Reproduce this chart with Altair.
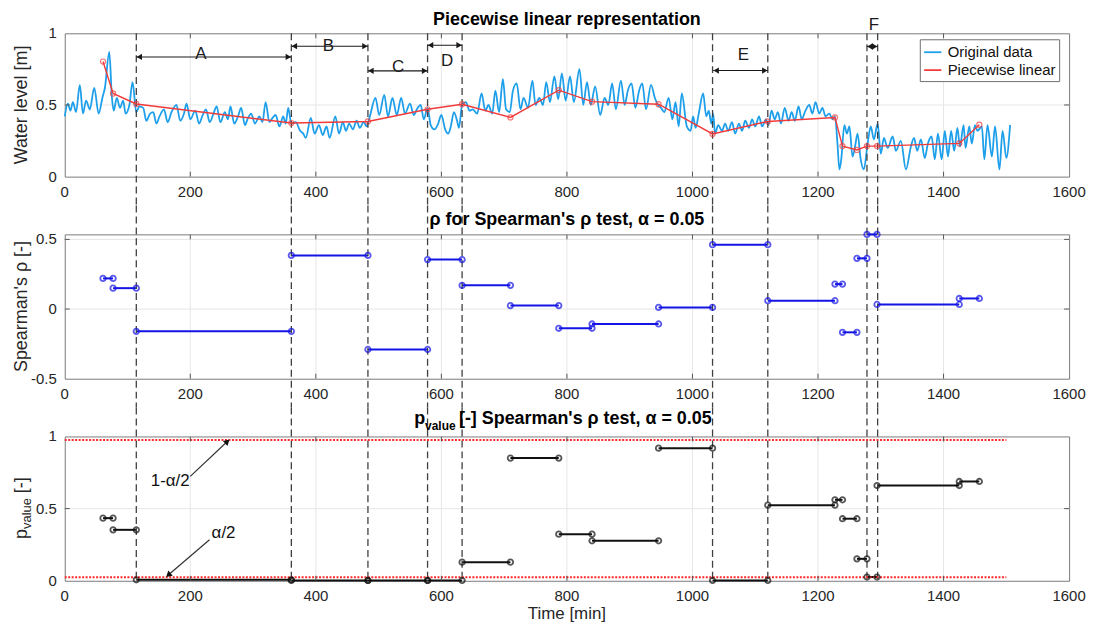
import altair as alt
import pandas as pd

FONT = "Liberation Sans"
TXT = "#262626"
GRID = "#e6e6e6"
FRAME = "#7a7a7a"
BLUE_LINE = "#1E9FEA"
RED = "#F23A3A"
SEG_BLUE = "#1414E6"
BLACK = "#111111"
DASH = "#404040"

W = 1009
H1, H2, H3 = 144, 145, 145
GAP = 58
HALF = GAP / 2

# ---------------- data: original water level (time [min], level [m]) ----------------
orig_1 = [(0, .42), (5, .51), (9, .46), (13, .52), (18, .45), (24, .64), (29, .44), (34, .53),
          (40, .47), (47, .62), (54, .44), (60, .55), (64, .62), (71, .87), (75, .56),
          (78, .46), (83, .55), (88, .48), (93, .53), (97, .44), (103, .50), (108, .66),
          (114, .45), (119, .49), (125, .48), (130, .39), (136, .44), (141, .45), (146, .37),
          (151, .42), (158, .47), (164, .38), (170, .45), (178, .50), (184, .39), (190, .44),
          (194, .51), (200, .40), (208, .46), (214, .37), (219, .42), (225, .47), (231, .38),
          (237, .44), (242, .49), (248, .38), (255, .45), (260, .40), (264, .49), (270, .37),
          (276, .42), (281, .48), (287, .36), (292, .41), (297, .44), (303, .37), (310, .42),
          (315, .38), (320, .52), (326, .38), (331, .41), (336, .43), (342, .35), (348, .42),
          (352, .37), (356, .48)]
orig_2 = [(361, .37), (368, .38), (375, .32), (380, .30), (384, .27), (392, .41), (398, .30),
          (405, .36), (411, .29), (417, .35), (422, .27), (431, .42), (437, .30), (443, .38),
          (448, .32), (453, .37), (459, .33), (465, .39), (470, .34), (476, .38), (481, .35),
          (486, .42), (495, .55), (501, .43), (509, .57), (515, .42), (522, .55), (529, .43),
          (536, .55), (542, .44), (550, .51), (556, .43), (561, .47), (567, .50), (572, .40),
          (578, .48), (583, .36), (589, .33), (594, .36), (600, .43), (606, .33), (611, .30),
          (615, .35), (620, .45), (625, .39), (628, .34), (633, .50), (639, .52), (645, .46),
          (650, .47), (657, .44), (664, .58), (670, .46), (675, .50), (681, .44), (686, .60),
          (692, .45), (698, .68), (703, .47), (709, .45), (714, .60), (720, .65), (726, .47),
          (731, .55), (738, .48), (745, .67), (750, .50), (756, .55), (762, .50), (767, .66),
          (773, .52), (780, .70)]
orig_3 = [(786, .54), (792, .72), (798, .53), (805, .70), (811, .52), (820, .75), (826, .50),
          (832, .66), (838, .50), (845, .63), (853, .43), (860, .55), (866, .50), (872, .65),
          (878, .47), (886, .67), (892, .50), (897, .60), (903, .65), (909, .48), (915, .60),
          (920, .65), (926, .47), (934, .64), (940, .55), (945, .50), (950, .48), (955, .45),
          (962, .55), (968, .40), (973, .52), (978, .35), (983, .58), (991, .35), (997, .32),
          (1001, .42), (1005, .34), (1010, .44), (1017, .58), (1022, .42), (1026, .46),
          (1030, .37), (1033, .44), (1036, .30), (1041, .36), (1047, .32), (1052, .37),
          (1057, .32), (1063, .38), (1068, .30), (1074, .37), (1079, .32), (1084, .39),
          (1090, .34), (1095, .40), (1100, .35), (1106, .42), (1111, .35), (1117, .40),
          (1121, .36), (1126, .46), (1131, .40), (1136, .45), (1141, .37), (1147, .48),
          (1153, .39), (1158, .45), (1163, .39), (1169, .49), (1174, .40), (1180, .46),
          (1186, .50), (1191, .44), (1196, .52), (1202, .44), (1207, .48), (1212, .42),
          (1218, .44), (1223, .40), (1227, .42)]
orig_4 = [(1231, .23), (1234, .05), (1237, .12), (1242, .36), (1246, .30), (1250, .35),
          (1255, .14), (1259, .21), (1263, .30), (1268, .12), (1273, .05), (1279, .23),
          (1284, .35), (1289, .26), (1295, .37), (1300, .16), (1305, .27), (1311, .20),
          (1319, .28), (1324, .18), (1332, .25), (1340, .05), (1348, .21), (1353, .27),
          (1358, .18), (1364, .26), (1370, .13), (1375, .23), (1381, .28), (1386, .12),
          (1391, .30), (1397, .12), (1402, .32), (1407, .14), (1412, .32), (1417, .18),
          (1422, .34), (1426, .21), (1432, .36), (1435, .20), (1441, .35), (1445, .23),
          (1450, .36), (1454, .32), (1461, .35), (1465, .12), (1470, .36), (1477, .14),
          (1482, .35), (1489, .05), (1494, .32), (1500, .13), (1506, .36)]

# piecewise linear knots (time, level)
pw_t = [61, 77, 114, 361, 483, 578, 633, 710, 787, 840, 946, 1032, 1120, 1227, 1239,
        1262, 1278, 1294, 1425, 1457]
pw_v = [0.803, 0.58, 0.507, 0.374, 0.385, 0.47, 0.505, 0.413, 0.603, 0.523, 0.505,
        0.298, 0.385, 0.413, 0.213, 0.186, 0.213, 0.213, 0.232, 0.362]

# Spearman's rho and p-value per segment
rho = [0.22, 0.15, -0.16, 0.385, -0.29, 0.355, 0.17, 0.025, -0.138, -0.107, 0.012,
       0.462, 0.06, 0.179, -0.167, 0.364, 0.536, 0.033, 0.076]
pval = [0.434, 0.353, 0.007, 0.002, 0.002, 0.002, 0.129, 0.85, 0.323, 0.277, 0.919,
        0.002, 0.524, 0.561, 0.43, 0.152, 0.026, 0.66, 0.688]

breaks = [114, 361, 483, 578, 633, 1032, 1120, 1278, 1295]

# axis ticks and their labels
xticks = [0, 200, 400, 600, 800, 1000, 1200, 1400, 1600]
xtick_labels = ["0", "200", "400", "600", "800", "1000", "1200", "1400", "1600"]
inner_xticks = [200, 400, 600, 800, 1000, 1200, 1400]
y_top_ticks = [0, 0.5, 1]
y_top_labels = ["0", "0.5", "1"]
y_mid_ticks = [-0.5, 0, 0.5]
y_mid_labels = ["-0.5", "0", "0.5"]
y_bot_ticks = [0, 0.5, 1]
y_bot_labels = ["0", "0.5", "1"]

# segment annotations (top panel)
arr_lab = ["A", "B", "C", "D", "E", "F"]
arr_x1 = [114, 361, 483, 578, 1033, 1278]
arr_x2 = [361, 483, 578, 633, 1120, 1295]
arr_y = [0.835, 0.91, 0.738, 0.917, 0.74, 0.908]
lab_x = [217, 420, 531, 609, 1081, 1289]
lab_y = [0.858, 0.91, 0.766, 0.808, 0.846, 1.057]

# significance thresholds
alpha_lines = [0.025, 0.975]
alpha_x0, alpha_x1 = 0, 1500

# ---------------- helpers ----------------
xscale = alt.Scale(domain=[0, 1600], nice=False, zero=False)


def X(field):
    return alt.X(field, type="quantitative", scale=xscale, axis=None)


def Y(field, scale):
    return alt.Y(field, type="quantitative", scale=scale, axis=None)


def grid_layers(yvals, yscale):
    gx = pd.DataFrame({"t": inner_xticks})
    gy = pd.DataFrame({"v": yvals})
    vx = alt.Chart(gx).mark_rule(color=GRID, strokeWidth=1).encode(x=X("t"))
    hy = alt.Chart(gy).mark_rule(color=GRID, strokeWidth=1).encode(y=Y("v", yscale))
    return [vx, hy]


def tick_labels(h, yvals, ylabels, yscale):
    dx = pd.DataFrame({"t": xticks, "s": xtick_labels})
    dy = pd.DataFrame({"v": yvals, "s": ylabels})
    c = dict(font=FONT, fontSize=15, color=TXT)
    xl = alt.Chart(dx).mark_text(align="center", baseline="alphabetic", **c).encode(
        x=X("t"), y=alt.value(h + 20), text="s:N")
    yl = alt.Chart(dy).mark_text(align="right", baseline="middle", **c).encode(
        y=Y("v", yscale), x=alt.value(-8), text="s:N")
    return [xl, yl]


def dashes(y0, y1):
    df = pd.DataFrame({"t": breaks})
    return alt.Chart(df).mark_rule(color=DASH, strokeWidth=1.3, strokeDash=[7, 4]).encode(
        x=X("t"), y=alt.value(y0), y2=alt.value(y1))


def inward_ticks(h, yvals, yscale):
    xt = pd.DataFrame({"t": inner_xticks})
    yt = pd.DataFrame({"v": yvals})
    c = dict(color="#555555", strokeWidth=1)
    top = alt.Chart(xt).mark_rule(**c).encode(x=X("t"), y=alt.value(0), y2=alt.value(5))
    bot = alt.Chart(xt).mark_rule(**c).encode(x=X("t"), y=alt.value(h), y2=alt.value(h - 5))
    left = alt.Chart(yt).mark_rule(**c).encode(y=Y("v", yscale), x=alt.value(0),
                                               x2=alt.value(5))
    right = alt.Chart(yt).mark_rule(**c).encode(y=Y("v", yscale), x=alt.value(W),
                                                x2=alt.value(W - 5))
    return [top, bot, left, right]


def text_mark(text, x, y, size=18, bold=True, align="center", baseline="alphabetic",
              angle=0):
    df = pd.DataFrame({"s": [text]})
    return alt.Chart(df).mark_text(font=FONT, fontSize=size,
                                   fontWeight="bold" if bold else "normal",
                                   color="#000000" if bold else TXT, align=align,
                                   baseline=baseline, angle=angle).encode(
        text="s:N", x=alt.value(x), y=alt.value(y))


def y_title(text, h):
    return text_mark(text, -43, h / 2, bold=False, baseline="middle", angle=270)


# ---------------- top panel ----------------
y1 = alt.Scale(domain=[0, 1], nice=False, zero=False)
orig = orig_1 + orig_2 + orig_3 + orig_4
orig_df = pd.DataFrame({"t": [p[0] for p in orig], "v": [p[1] for p in orig],
                        "series": "Original data"})
pw_df = pd.DataFrame({"t": pw_t, "v": pw_v, "series": "Piecewise linear"})

color = alt.Color(
    "series:N",
    scale=alt.Scale(domain=["Original data", "Piecewise linear"], range=[BLUE_LINE, RED]),
    legend=alt.Legend(title=None, orient="none", legendX=859, legendY=6,
                      direction="vertical", fillColor="white", strokeColor="#6f6f6f",
                      padding=3, symbolType="stroke", symbolSize=300,
                      symbolStrokeWidth=1.8, labelFont=FONT, labelFontSize=15,
                      labelColor="#111111", labelOffset=5, rowPadding=0))

blue = alt.Chart(orig_df).mark_line(strokeWidth=1.8, interpolate="monotone").encode(
    x=X("t"), y=Y("v", y1), color=color)
red_line = alt.Chart(pw_df).mark_line(strokeWidth=1.4).encode(
    x=X("t"), y=Y("v", y1), color=color)
red_pts = alt.Chart(pw_df).mark_point(shape="circle", filled=False, size=26, color=RED,
                                      strokeWidth=1.2).encode(x=X("t"), y=Y("v", y1))

arr_df = pd.DataFrame({"lab": arr_lab, "x1": arr_x1, "x2": arr_x2, "y": arr_y,
                       "lx": lab_x, "ly": lab_y})
arr_rule = alt.Chart(arr_df).mark_rule(color="#1a1a1a", strokeWidth=1.1).encode(
    x=X("x1"), x2="x2", y=Y("y", y1))
arr_l = alt.Chart(arr_df).mark_point(shape="triangle-left", filled=True, size=40,
                                     color="#1a1a1a", opacity=1, xOffset=3).encode(
    x=X("x1"), y=Y("y", y1))
arr_r = alt.Chart(arr_df).mark_point(shape="triangle-right", filled=True, size=40,
                                     color="#1a1a1a", opacity=1, xOffset=-3).encode(
    x=X("x2"), y=Y("y", y1))
arr_txt = alt.Chart(arr_df).mark_text(font=FONT, fontSize=17, color="#1a1a1a",
                                      baseline="middle").encode(
    x=X("lx"), y=Y("ly", y1), text="lab:N")

top = alt.layer(
    *grid_layers([0.5], y1),
    blue, dashes(0, H1 + HALF), red_line, red_pts, arr_rule, arr_l, arr_r, arr_txt,
    *inward_ticks(H1, [0.5], y1),
    *tick_labels(H1, y_top_ticks, y_top_labels, y1),
    y_title("Water level [m]", H1),
    text_mark("Piecewise linear representation", W / 2, -8),
).properties(width=W, height=H1)

# ---------------- middle panel ----------------
rows = []
for i in range(len(rho)):
    for t in (pw_t[i], pw_t[i + 1]):
        rows.append({"seg": i, "t": t, "rho": rho[i], "p": pval[i]})
seg_df = pd.DataFrame(rows)

y2s = alt.Scale(domain=[-0.5, 0.536], nice=False, zero=False)
mid_line = alt.Chart(seg_df).mark_line(color=SEG_BLUE, strokeWidth=2).encode(
    x=X("t"), y=Y("rho", y2s), detail="seg:N")
mid_pts = alt.Chart(seg_df).mark_point(shape="circle", filled=False, size=30,
                                       color=SEG_BLUE, strokeWidth=1.8).encode(
    x=X("t"), y=Y("rho", y2s))

mid = alt.layer(
    *grid_layers([0, 0.5], y2s),
    mid_line, dashes(-HALF, H2 + HALF), mid_pts,
    *inward_ticks(H2, [0, 0.5], y2s),
    *tick_labels(H2, y_mid_ticks, y_mid_labels, y2s),
    y_title("Spearman's ρ [-]", H2),
    text_mark("ρ for Spearman's ρ test, α = 0.05", W / 2, -9),
).properties(width=W, height=H2)

# ---------------- bottom panel ----------------
y3s = alt.Scale(domain=[0, 1], nice=False, zero=False)
bot_line = alt.Chart(seg_df).mark_line(color=BLACK, strokeWidth=2).encode(
    x=X("t"), y=Y("p", y3s), detail="seg:N")
bot_pts = alt.Chart(seg_df).mark_point(shape="circle", filled=False, size=30,
                                       color=BLACK, strokeWidth=1.8).encode(
    x=X("t"), y=Y("p", y3s))

al_df = pd.DataFrame({"v": alpha_lines, "a": [alpha_x0] * 2, "b": [alpha_x1] * 2})
alpha_rules = alt.Chart(al_df).mark_rule(color="#ff2a2a", strokeWidth=2,
                                         strokeDash=[2, 1.5]).encode(
    x=X("a"), x2="b", y=Y("v", y3s))

ann_text = ["1-α/2", "α/2"]
ann_tx = [168, 253]
ann_ty = [0.694, 0.33]
ann_ax = [200, 230.6]
ann_ay = [0.723, 0.284]
ann_hx = [259, 165]
ann_hy = [0.965, 0.04]
ann_ang = [46.6, 229.3]
ann_df = pd.DataFrame({"s": ann_text, "tx": ann_tx, "ty": ann_ty, "ax": ann_ax,
                       "ay": ann_ay, "hx": ann_hx, "hy": ann_hy, "ang": ann_ang})
ann_rule = alt.Chart(ann_df).mark_rule(color="#333333", strokeWidth=1.2).encode(
    x=X("ax"), y=Y("ay", y3s), x2="hx", y2="hy")
ann_head = alt.Chart(ann_df).mark_point(shape="triangle-up", filled=True, size=45,
                                        color="#111111", opacity=1).encode(
    x=X("hx"), y=Y("hy", y3s), angle=alt.Angle("ang:Q", scale=None))
ann_txt = alt.Chart(ann_df).mark_text(font=FONT, fontSize=17, color="#111111",
                                      baseline="middle").encode(
    x=X("tx"), y=Y("ty", y3s), text="s:N")

bot = alt.layer(
    *grid_layers([0.5], y3s),
    bot_line, dashes(-HALF, H3), alpha_rules, bot_pts, ann_rule, ann_head, ann_txt,
    *inward_ticks(H3, [0.5], y3s),
    *tick_labels(H3, y_bot_ticks, y_bot_labels, y3s),
    text_mark("Time [min]", W / 2, H3 + 38, size=17, bold=False),
    text_mark("p", 351, -12, align="left"),
    text_mark("value", 362, -6, size=12, align="left"),
    text_mark("[-] Spearman's ρ test, α = 0.05", 396, -12, align="left"),
    text_mark("p", -43, 103, bold=False, align="left", baseline="middle", angle=270),
    text_mark("value", -38, 93, size=13, bold=False, align="left", baseline="middle",
              angle=270),
    text_mark("[-]", -43, 57, bold=False, align="left", baseline="middle", angle=270),
).properties(width=W, height=H3)

chart = alt.vconcat(top, mid, bot, spacing=GAP, bounds="flush").properties(
    padding={"left": 4, "top": 1, "right": 5, "bottom": 0}
).configure_view(stroke=FRAME, strokeWidth=1)

chart.save("out.html", embed_options={"renderer": "svg", "actions": False})
